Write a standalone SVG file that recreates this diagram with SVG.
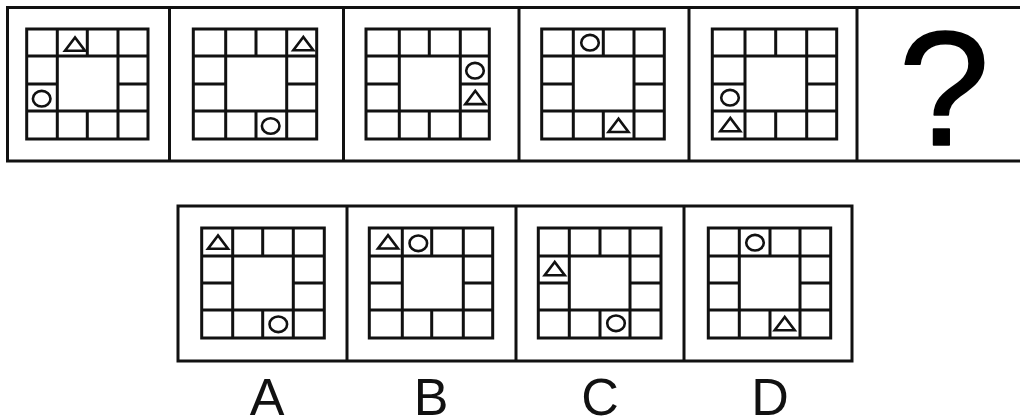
<svg xmlns="http://www.w3.org/2000/svg" xmlns:xlink="http://www.w3.org/1999/xlink" width="1020" height="420" viewBox="0 0 1020 420">
<style>
.frame{fill:none;stroke:#111;stroke-width:3}
.grid{fill:none;stroke:#111;stroke-width:3;stroke-linecap:square}
.sym{fill:#fff;stroke:#111;stroke-width:2.6}
.lbl{font-family:"Liberation Sans",Arial,sans-serif;font-size:52px;fill:#111;text-anchor:middle}
.q{font-family:"Liberation Sans",Arial,sans-serif;font-size:164px;fill:#000;stroke:#000;stroke-width:1.6;stroke-linejoin:round;text-anchor:middle}
</style>
<defs>
<polygon id="tri" class="sym" points="0,-6.5 -10,6.8 10,6.8"/>
<ellipse id="cir" class="sym" rx="8.8" ry="7.8"/>
</defs>
<rect width="1020" height="420" fill="#fff"/>
<g id="frames">
<path class="frame" d="M1020,7.5H7.5V161H1020M169.5,7.5V161M343.5,7.5V161M519,7.5V161M689,7.5V161M857,7.5V161"/>
<path class="frame" d="M178,206H852V361H178ZM347,206V361M516,206V361M684,206V361"/>
</g>
<g id="panel1">
<path class="grid" d="M26.7,29H148V139H26.7ZM26.7,56H148M26.7,111H148M26.7,84H57.3M118,84H148M57.3,29V139M118,29V139M87.3,29V56M87.3,111V139"/>
<use xlink:href="#tri" x="75" y="44"/>
<use xlink:href="#cir" x="41.7" y="98.7"/>
</g>
<g id="panel2">
<path class="grid" d="M193.3,29H316.7V139H193.3ZM193.3,56H316.7M193.3,111H316.7M193.3,84H225.7M286.7,84H316.7M225.7,29V139M286.7,29V139M256,29V56M256,111V139"/>
<use xlink:href="#tri" x="303.3" y="43.5"/>
<use xlink:href="#cir" x="270.7" y="126"/>
</g>
<g id="panel3">
<path class="grid" d="M366,29H489.3V139H366ZM366,56H489.3M366,111H489.3M366,84H399.3M460.3,84H489.3M399.3,29V139M460.3,29V139M429.3,29V56M429.3,111V139"/>
<use xlink:href="#cir" x="475" y="70.7"/>
<use xlink:href="#tri" x="475.3" y="97.3"/>
</g>
<g id="panel4">
<path class="grid" d="M541.7,29H664.3V139H541.7ZM541.7,56H664.3M541.7,111H664.3M541.7,84H573.3M634,84H664.3M573.3,29V139M634,29V139M603.3,29V56M603.3,111V139"/>
<use xlink:href="#cir" x="590" y="42.7"/>
<use xlink:href="#tri" x="618.5" y="125.2"/>
</g>
<g id="panel5">
<path class="grid" d="M712.3,29H836.7V139H712.3ZM712.3,56H836.7M712.3,111H836.7M712.3,84H745M806.7,84H836.7M745,29V139M806.7,29V139M775.7,29V56M775.7,111V139"/>
<use xlink:href="#cir" x="730" y="97.7"/>
<use xlink:href="#tri" x="730.3" y="124.5"/>
</g>
<g id="panel6">
<text class="q" x="944" y="145">?</text>
</g>
<g id="optionA">
<path class="grid" d="M201.7,228H324.3V338H201.7ZM201.7,256H324.3M201.7,310H324.3M201.7,283H232.7M293.3,283H324.3M232.7,228V338M293.3,228V338M262.7,228V256M262.7,310V338"/>
<use xlink:href="#tri" x="218" y="242"/>
<use xlink:href="#cir" x="278.3" y="324.3"/>
<text class="lbl" x="267" y="415">A</text>
</g>
<g id="optionB">
<path class="grid" d="M369.3,228H492.7V338H369.3ZM369.3,256H492.7M369.3,310H492.7M369.3,283H402.3M463.3,283H492.7M402.3,228V338M463.3,228V338M431.7,228V256M431.7,310V338"/>
<use xlink:href="#tri" x="388" y="241.7"/>
<use xlink:href="#cir" x="418.3" y="243.3"/>
<text class="lbl" x="431" y="415">B</text>
</g>
<g id="optionC">
<path class="grid" d="M538.3,228H661V338H538.3ZM538.3,256H661M538.3,310H661M538.3,283H569.3M630,283H661M569.3,228V338M630,228V338M600,228V256M600,310V338"/>
<use xlink:href="#tri" x="554.7" y="268.5"/>
<use xlink:href="#cir" x="616" y="323.3"/>
<text class="lbl" x="600" y="415">C</text>
</g>
<g id="optionD">
<path class="grid" d="M708.3,228H830.7V338H708.3ZM708.3,256H830.7M708.3,310H830.7M708.3,283H739.3M800,283H830.7M739.3,228V338M800,228V338M770,228V256M770,310V338"/>
<use xlink:href="#cir" x="755" y="242.7"/>
<use xlink:href="#tri" x="784.7" y="323.5"/>
<text class="lbl" x="770" y="415">D</text>
</g>
</svg>
